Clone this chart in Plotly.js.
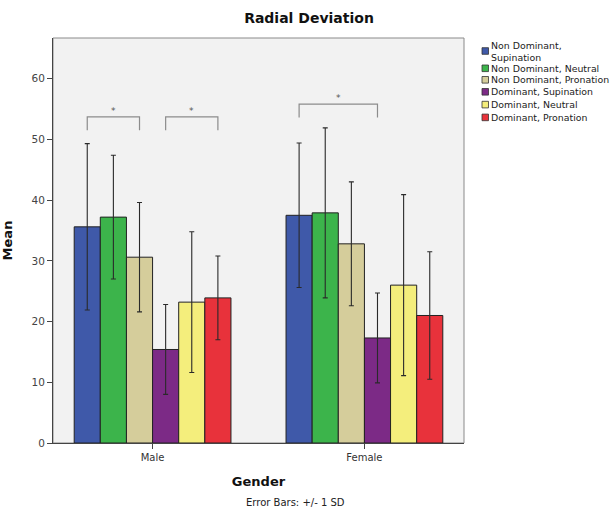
<!DOCTYPE html>
<html>
<head>
<meta charset="utf-8">
<script src="https://cdn.plot.ly/plotly-3.0.1.min.js"></script>
<style>html,body{margin:0;padding:0;background:#fff;}#chart{width:612px;height:514px;}</style>
</head>
<body>
<div id="chart"></div>
<script>
// ---- data ----
var categories = ['Male', 'Female'];
var seriesNames = ['Non Dominant, Supination', 'Non Dominant, Neutral', 'Non Dominant, Pronation',
                   'Dominant, Supination', 'Dominant, Neutral', 'Dominant, Pronation'];
var legendLabels = ['Non Dominant,<br>Supination', 'Non Dominant, Neutral', 'Non Dominant, Pronation',
                    'Dominant, Supination', 'Dominant, Neutral', 'Dominant, Pronation'];
var meanNDSup = [35.6, 37.5];
var meanNDNeu = [37.2, 37.9];
var meanNDPro = [30.6, 32.8];
var meanDSup  = [15.4, 17.3];
var meanDNeu  = [23.2, 26.0];
var meanDPro  = [23.9, 21.0];
var sdNDSup = [13.7, 11.9];
var sdNDNeu = [10.2, 14.0];
var sdNDPro = [9.0, 10.2];
var sdDSup  = [7.4, 7.4];
var sdDNeu  = [11.6, 14.9];
var sdDPro  = [6.9, 10.5];
var seriesColors = ['#3f59a9', '#3cb44b', '#d5cd9b', '#7c2a86', '#f4ee7c', '#e8323b'];
// significance brackets: category index, from series index, to series index, height
var sigCat  = [0, 0, 1];
var sigFrom = [0, 3, 0];
var sigTo   = [2, 5, 3];
var sigY    = [53.7, 53.7, 55.8];
var footnote = 'Error Bars: +/- 1 SD';

var means = [meanNDSup, meanNDNeu, meanNDPro, meanDSup, meanDNeu, meanDPro];
var sds = [sdNDSup, sdNDNeu, sdNDPro, sdDSup, sdDNeu, sdDPro];

// ---- layout geometry (pixels) ----
var W = 612, H = 514;
var mL = 53, mR = 148, mT = 38, mB = 71;
var plotW = W - mL - mR, plotH = H - mT - mB;
function px2paperX(px) { return (px - mL) / plotW; }
function px2paperY(py) { return (H - mB - py) / plotH; }
var bargap = 0.26;
var barW = (1 - bargap) / seriesNames.length;

var traces = seriesNames.map(function (name, i) {
  return {
    type: 'bar',
    name: name,
    x: categories,
    y: means[i],
    marker: { color: seriesColors[i], line: { color: '#222', width: 1 } },
    error_y: { type: 'data', array: sds[i], visible: true, color: '#2a2a2a', thickness: 1.1, width: 2.5 },
    showlegend: false,
    hoverinfo: 'y'
  };
});

var shapes = [];
var annotations = [];

// plot border
shapes.push({ type: 'rect', xref: 'paper', yref: 'paper', x0: 0, x1: 1, y0: 0, y1: 1,
  line: { color: '#8a8a8a', width: 1 }, layer: 'below' });

// significance brackets
for (var k = 0; k < sigCat.length; k++) {
  var xa = sigCat[k] + (sigFrom[k] - (seriesNames.length - 1) / 2) * barW;
  var xb = sigCat[k] + (sigTo[k] - (seriesNames.length - 1) / 2) * barW;
  var yt = sigY[k], yb = sigY[k] - 2.2;
  shapes.push({ type: 'path', xref: 'x', yref: 'y',
    path: 'M' + xa + ',' + yb + 'L' + xa + ',' + yt + 'L' + xb + ',' + yt + 'L' + xb + ',' + yb,
    line: { color: '#8c8c8c', width: 1.2 } });
  annotations.push({ xref: 'x', yref: 'y', x: (xa + xb) / 2, y: yt, yanchor: 'bottom', yshift: -1,
    text: '*', showarrow: false, font: { family: 'DejaVu Sans', size: 9, color: '#555' } });
}

// manual legend
var legTextY = [51, 68.3, 79.8, 91.8, 104.6, 117.4];
for (var j = 0; j < legendLabels.length; j++) {
  var cy = legTextY[j];
  shapes.push({ type: 'rect', xref: 'paper', yref: 'paper',
    x0: px2paperX(482), x1: px2paperX(488.5), y0: px2paperY(cy + 3.3), y1: px2paperY(cy - 3.3),
    fillcolor: seriesColors[j], line: { color: '#333', width: 0.8 } });
  annotations.push({ xref: 'paper', yref: 'paper', x: px2paperX(490), y: px2paperY(cy),
    xanchor: 'left', yanchor: 'middle', align: 'left', showarrow: false, borderpad: 0,
    text: legendLabels[j], font: { family: 'DejaVu Sans', size: 9.4, color: '#222' } });
}

// footnote
annotations.push({ xref: 'paper', yref: 'paper', x: px2paperX(295), y: px2paperY(502),
  xanchor: 'center', yanchor: 'middle', showarrow: false, text: footnote,
  font: { family: 'DejaVu Sans', size: 10, color: '#222' } });

var layout = {
  width: W, height: H,
  margin: { l: mL, r: mR, t: mT, b: mB, pad: 0 },
  paper_bgcolor: '#ffffff',
  plot_bgcolor: '#f2f2f2',
  barmode: 'group',
  bargap: bargap,
  bargroupgap: 0,
  showlegend: false,
  title: { text: 'Radial Deviation', x: 309 / W, xanchor: 'center', y: 1 - 18 / H, yanchor: 'middle',
    font: { family: 'DejaVu Sans', size: 14, weight: 'bold', color: '#111' } },
  xaxis: {
    type: 'category', range: [-0.47, 1.47],
    showline: true, linecolor: '#444', linewidth: 1,
    ticks: 'outside', ticklen: 5, tickcolor: '#444',
    tickfont: { family: 'DejaVu Sans', size: 10, color: '#333' },
    showgrid: false, zeroline: false,
    title: { text: 'Gender', standoff: 14, font: { family: 'DejaVu Sans', size: 13, weight: 'bold', color: '#111' } }
  },
  yaxis: {
    range: [0, 66.7], tickvals: [0, 10, 20, 30, 40, 50, 60],
    showline: true, linecolor: '#444', linewidth: 1,
    ticks: 'outside', ticklen: 5, tickcolor: '#444',
    tickfont: { family: 'DejaVu Sans', size: 10.5, color: '#444' },
    showgrid: false, zeroline: false,
    title: { text: 'Mean', standoff: 15, font: { family: 'DejaVu Sans', size: 13, weight: 'bold', color: '#111' } }
  },
  shapes: shapes,
  annotations: annotations
};

Plotly.newPlot('chart', traces, layout, { displayModeBar: false, staticPlot: true });
</script>
</body>
</html>
